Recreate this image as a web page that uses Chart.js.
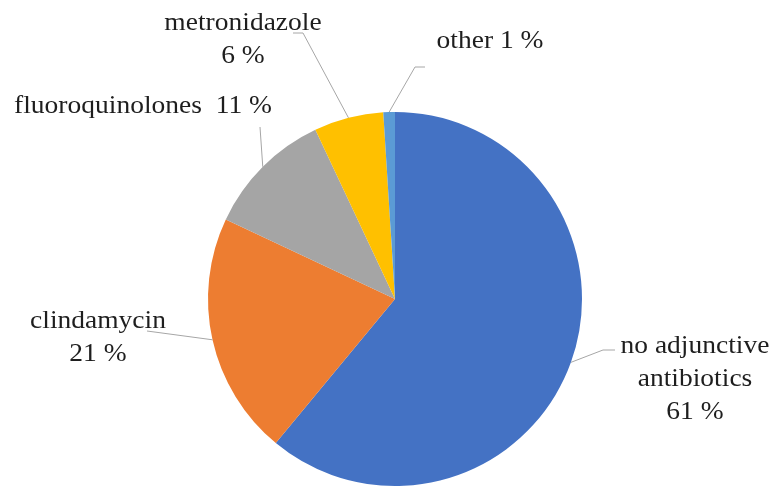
<!DOCTYPE html>
<html>
<head>
<meta charset="utf-8">
<script src="https://cdn.jsdelivr.net/npm/chart.js@4.4.0/dist/chart.umd.min.js"></script>
<style>
  html, body { margin: 0; padding: 0; background: #fff; }
  #wrap { width: 778px; height: 488px; }
</style>
</head>
<body>
<div id="wrap"><canvas id="pie" width="778" height="488"></canvas></div>
<script>
// chart data
const categories = ['no adjunctive antibiotics', 'clindamycin', 'fluoroquinolones', 'metronidazole', 'other'];
const shares = [61, 21, 11, 6, 1];
const sliceColors = ['#4472C4', '#ED7D31', '#A5A5A5', '#FFC000', '#5B9BD5'];

// how each label is broken into lines
const labelLines = [
    ['no adjunctive', 'antibiotics', '{v} %'],
    ['clindamycin', '{v} %'],
    ['fluoroquinolones  {v} %'],
    ['metronidazole', '{v} %'],
    ['other {v} %']
];

// label placement: text centre x, first baseline, leader path after the slice edge
const labelLayout = [
    { x: 695, y: 353, path: [[603, 350], [615, 350]] },
    { x: 98, y: 328, path: [[147, 331]] },
    { x: 143, y: 113, path: [[260, 127]] },
    { x: 243, y: 30, path: [[303, 33], [293, 33]] },
    { x: 490, y: 48, path: [[415, 67], [425, 67]] }
];

const LINE_GAP = 33;

// draws the outside labels and their leader lines
const outsideLabels = {
    id: 'outsideLabels',
    afterDraw(chart) {
        const ctx = chart.ctx;
        const arcs = chart.getDatasetMeta(0).data;
        ctx.save();
        arcs.forEach((arc, i) => {
            const mid = (arc.startAngle + arc.endAngle) / 2;
            const sx = arc.x + Math.cos(mid) * arc.outerRadius;
            const sy = arc.y + Math.sin(mid) * arc.outerRadius;
            const lay = labelLayout[i];

            ctx.strokeStyle = '#A6A6A6';
            ctx.lineWidth = 1;
            ctx.beginPath();
            ctx.moveTo(sx, sy);
            lay.path.forEach(p => ctx.lineTo(p[0], p[1]));
            ctx.stroke();

            ctx.fillStyle = '#1e1e1e';
            ctx.font = '25px "Liberation Serif", "Times New Roman", serif';
            ctx.textAlign = 'center';
            ctx.textBaseline = 'alphabetic';
            labelLines[i].forEach((line, k) => {
                const txt = line.replace('{v}', shares[i]);
                ctx.save();
                ctx.translate(lay.x, lay.y + k * LINE_GAP);
                ctx.scale(1.1, 1);
                ctx.fillText(txt, 0, 0);
                ctx.restore();
            });
        });
        ctx.restore();
    }
};

new Chart(document.getElementById('pie'), {
    type: 'pie',
    data: {
        labels: categories,
        datasets: [{
            data: shares,
            backgroundColor: sliceColors,
            borderWidth: 0
        }]
    },
    options: {
        responsive: false,
        animation: false,
        layout: { padding: { top: 112, bottom: 2, left: 208, right: 196 } },
        plugins: {
            legend: { display: false },
            tooltip: { enabled: false }
        }
    },
    plugins: [outsideLabels]
});
</script>
</body>
</html>
